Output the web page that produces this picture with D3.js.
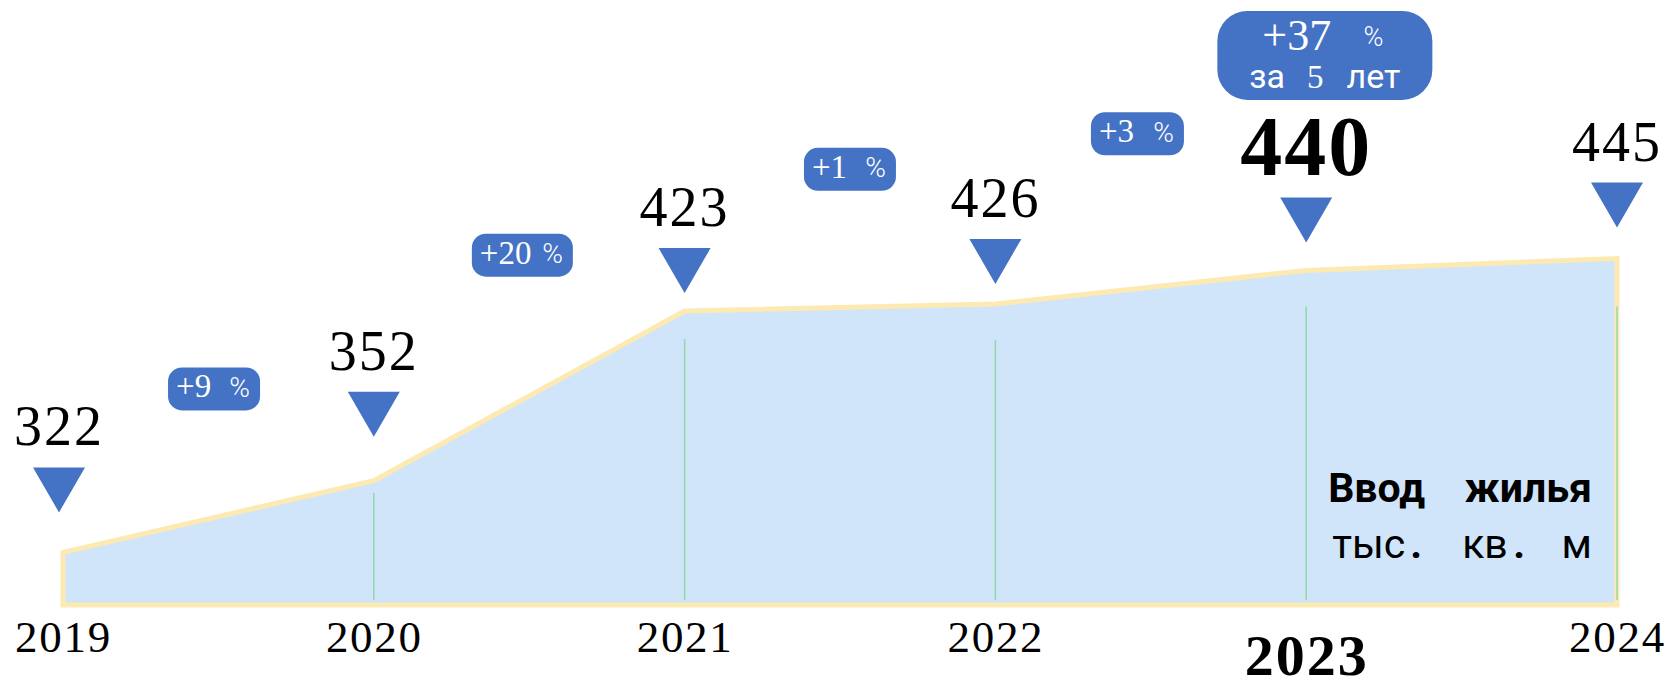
<!DOCTYPE html>
<html>
<head>
<meta charset="utf-8">
<title>Ввод жилья</title>
<script src="https://d3js.org/d3.v7.min.js"></script>
<style>
  body { margin: 0; background: #fff; }
  .num { font-family: "Liberation Serif", "Times New Roman", serif; }
  .sans { font-family: Roboto, "Noto Sans", sans-serif; }
</style>
</head>
<body>
<div id="chart"></div>
<script>
// data
var years = [2019, 2020, 2021, 2022, 2023, 2024];
var values = [322, 352, 423, 426, 440, 445];
var growth = ["+9", "+20", "+1", "+3"];
var total = "+37";
var totalText = ["за", "5", "лет"];
var highlightYear = 2023;

// annotation layout (gaps in px, badge anchors in year / value units)
var markerGap = [40, 44, 18, 20, 28, 31];
var dropGap = [0, 12, 28, 36, 36, 48];
var badgeYear = [2019.486, 2020.478, 2021.532, 2022.457];
var badgeValue = [390.4, 446.4, 482.3, 497.2];
var badgeWidth = [92, 101, 92, 93];

var blue = "#4472C4";
var W = 1667, H = 685;

var svg = d3.select("#chart").append("svg")
  .attr("width", W).attr("height", H);

var x = d3.scaleLinear().domain([2019, 2024]).range([63, 1617]);
var y = d3.scaleLinear().domain([300, 445]).range([605, 258.5]);

var data = years.map(function (d, i) { return { year: d, value: values[i], i: i }; });

// area
var area = d3.area()
  .x(function (d) { return x(d.year); })
  .y0(y(300))
  .y1(function (d) { return y(d.value); });

svg.append("path")
  .datum(data)
  .attr("d", area)
  .attr("fill", "#D0E5F9")
  .attr("stroke", "#FDE9B2")
  .attr("stroke-width", 5)
  .attr("stroke-linejoin", "miter");

// drop lines
svg.append("g").selectAll("line")
  .data(data.slice(1))
  .join("line")
  .attr("x1", function (d) { return x(d.year); })
  .attr("x2", function (d) { return x(d.year); })
  .attr("y1", function (d) { return y(d.value) + dropGap[d.i]; })
  .attr("y2", y(300) - 5)
  .attr("stroke", "#92D8A6")
  .attr("stroke-width", 1.5);

// markers
function triTop(d) { return y(d.value) - markerGap[d.i] - 45; }

svg.append("g").selectAll("path")
  .data(data)
  .join("path")
  .attr("d", function (d) {
    var cx = x(d.year) - (d.i === 0 ? 4 : 0), t = triTop(d);
    return "M" + (cx - 26) + "," + t + "L" + (cx + 26) + "," + t + "L" + cx + "," + (t + 45) + "Z";
  })
  .attr("fill", blue);

svg.append("g").selectAll("text")
  .data(data)
  .join("text")
  .attr("class", "num")
  .attr("x", function (d) { return x(d.year) - (d.i === 0 ? 4 : 0); })
  .attr("y", function (d) { return triTop(d) - 22; })
  .attr("text-anchor", "middle")
  .attr("font-size", function (d) { return d.year === highlightYear ? 84 : 56; })
  .attr("font-weight", function (d) { return d.year === highlightYear ? "bold" : "normal"; })
  .attr("letter-spacing", 2)
  .attr("fill", "#000")
  .text(function (d) { return d.value; });

// year axis
var axis = svg.append("g")
  .attr("transform", "translate(0,620)")
  .call(d3.axisBottom(x).tickValues(years).tickFormat(d3.format("d")).tickSize(0).tickPadding(0));
axis.select(".domain").remove();
axis.attr("font-family", null);
axis.selectAll("text")
  .attr("class", "num")
  .attr("dy", null)
  .attr("fill", "#000")
  .attr("letter-spacing", function (d) { return d === highlightYear ? 2 : 1.7; })
  .attr("y", function (d) { return d === highlightYear ? 55 : 32; })
  .attr("font-size", function (d) { return d === highlightYear ? 58 : 45; })
  .attr("font-weight", function (d) { return d === highlightYear ? "bold" : "normal"; });

// growth badges
var badges = svg.append("g").selectAll("g")
  .data(growth)
  .join("g")
  .attr("transform", function (d, i) { return "translate(" + x(badgeYear[i]) + "," + y(badgeValue[i]) + ")"; });

badges.append("rect")
  .attr("x", function (d, i) { return -badgeWidth[i] / 2; })
  .attr("y", -21.5)
  .attr("width", function (d, i) { return badgeWidth[i]; })
  .attr("height", 43)
  .attr("rx", 14)
  .attr("fill", blue);

badges.append("text")
  .attr("class", "num")
  .attr("x", function (d, i) { return -badgeWidth[i] / 2 + 8; })
  .attr("y", 8.5)
  .attr("font-size", 33)
  .attr("fill", "#fff")
  .text(function (d) { return d; });

badges.append("text")
  .attr("class", "sans")
  .attr("x", function (d, i) { return badgeWidth[i] / 2 - 10; })
  .attr("y", 8)
  .attr("text-anchor", "end")
  .attr("font-size", 28)
  .attr("font-weight", 300)
  .attr("fill", "#fff")
  .text("%");

// total badge above 2023
var tb = svg.append("g")
  .attr("transform", "translate(" + x(2023.06) + "," + y(530) + ")");
tb.append("rect")
  .attr("x", -107.5).attr("y", -44.5)
  .attr("width", 215).attr("height", 89)
  .attr("rx", 30)
  .attr("fill", blue);
tb.append("text").attr("class", "num")
  .attr("x", -62.5).attr("y", -5.5)
  .attr("font-size", 44).attr("fill", "#fff")
  .text(total);
tb.append("text").attr("class", "sans")
  .attr("x", 58.5).attr("y", -9)
  .attr("text-anchor", "end")
  .attr("font-size", 27).attr("font-weight", 300).attr("fill", "#fff")
  .text("%");
tb.append("text").attr("class", "sans")
  .attr("x", -75.5).attr("y", 32.5)
  .attr("font-size", 34).attr("fill", "#fff")
  .text(totalText[0]);
tb.append("text").attr("class", "num")
  .attr("x", -9.5).attr("y", 32.5)
  .attr("text-anchor", "middle")
  .attr("font-size", 33).attr("fill", "#fff")
  .text(totalText[1]);
tb.append("text").attr("class", "sans")
  .attr("x", 75.5).attr("y", 32.5)
  .attr("text-anchor", "end")
  .attr("font-size", 34).attr("fill", "#fff")
  .text(totalText[2]);

// title inside the area
var left = x(2023) + 22, right = x(2024) - 25;
var title = svg.append("g").attr("class", "sans").attr("fill", "#000");
title.append("text").attr("x", left).attr("y", 502)
  .attr("font-size", 41).attr("font-weight", "bold").text("Ввод");
title.append("text").attr("x", right).attr("y", 502).attr("text-anchor", "end")
  .attr("font-size", 41).attr("font-weight", "bold").text("жилья");
title.append("text").attr("x", left + 4).attr("y", 558)
  .attr("font-size", 41).text("тыс");
title.append("text").attr("x", left + 82).attr("y", 558)
  .attr("font-size", 41).attr("font-weight", "bold").text(".");
title.append("text").attr("x", left + 134).attr("y", 558)
  .attr("font-size", 41).text("кв");
title.append("text").attr("x", left + 185).attr("y", 558)
  .attr("font-size", 41).attr("font-weight", "bold").text(".");
title.append("text").attr("x", right).attr("y", 558).attr("text-anchor", "end")
  .attr("font-size", 41).text("м");
</script>
</body>
</html>
